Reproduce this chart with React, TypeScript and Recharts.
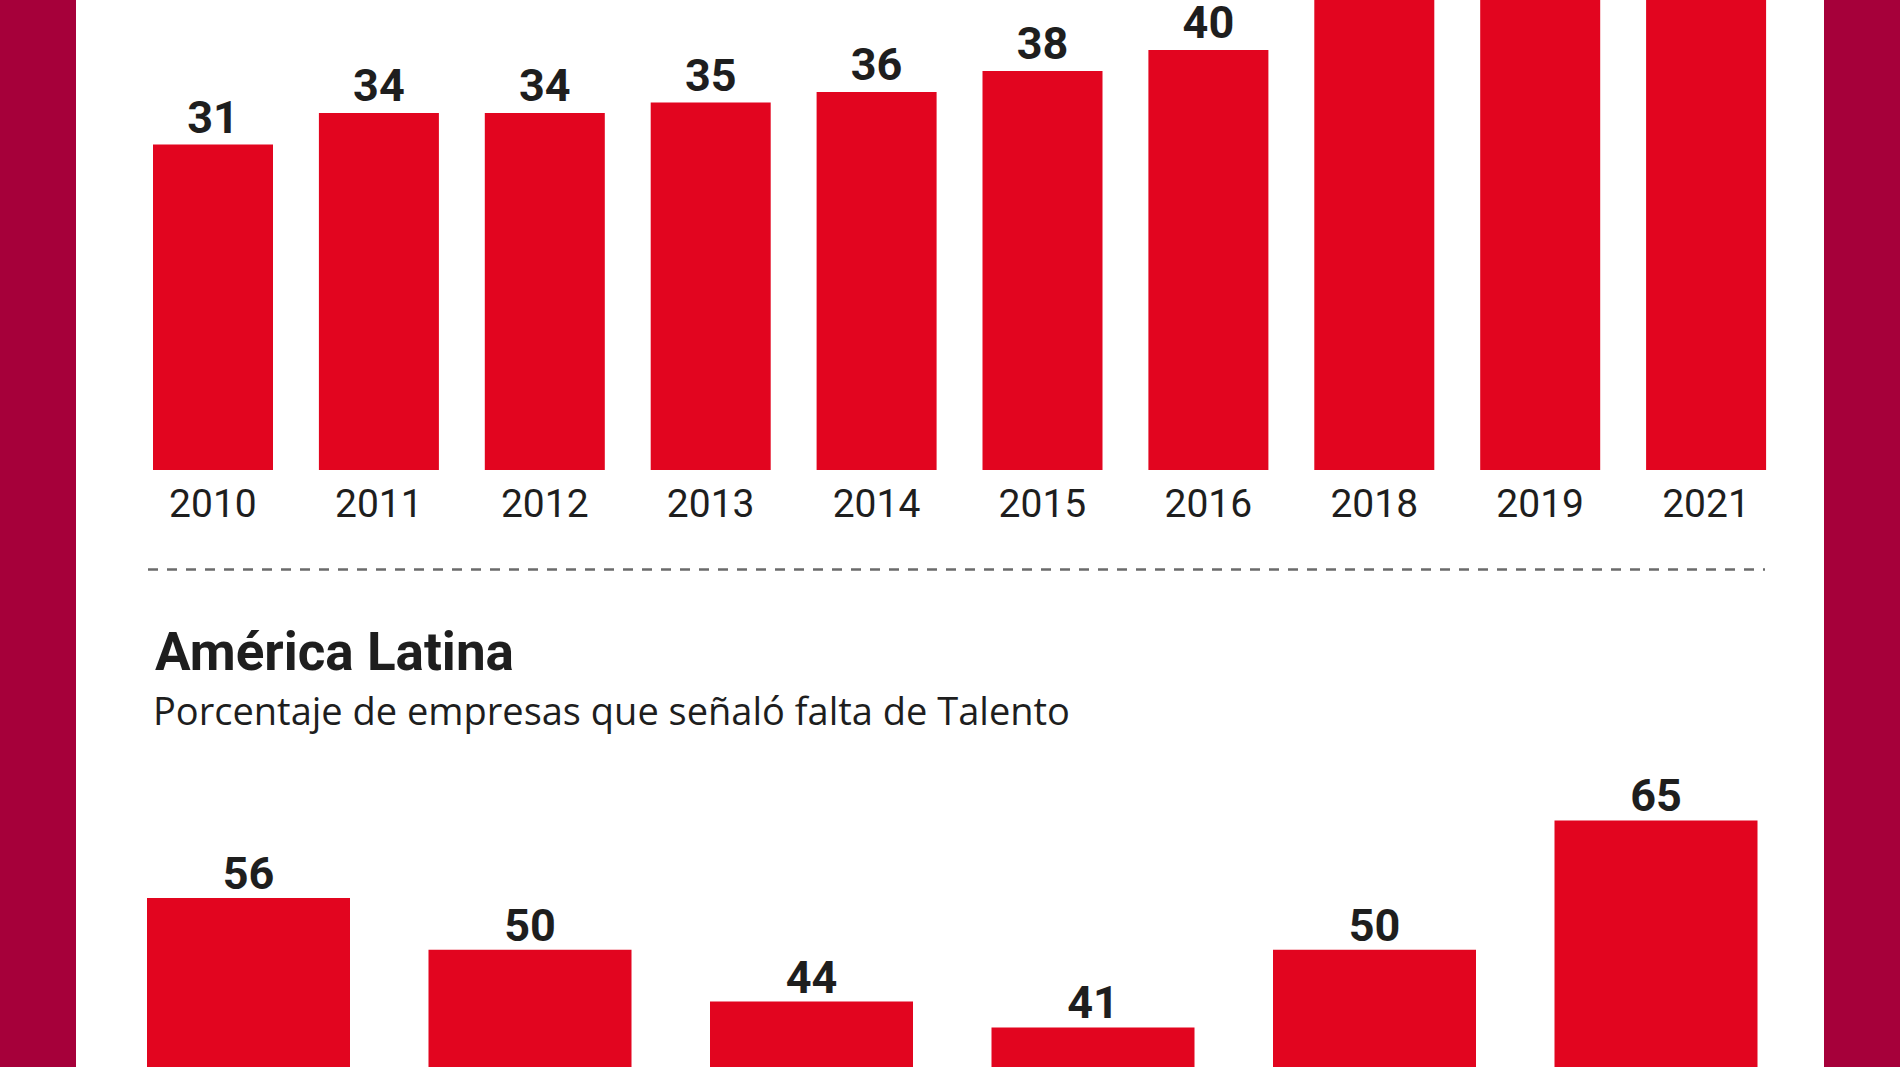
import { Bar, BarChart, LabelList, XAxis, YAxis } from "recharts";

const RED = "#e2051f";
const MAROON = "#a6003a";
const INK = "#1e1e1e";

// Global series (the last three bars run past the top of the frame)
const globalYears = ["2010", "2011", "2012", "2013", "2014", "2015", "2016", "2018", "2019", "2021"];
const globalShare = [31, 34, 34, 35, 36, 38, 40, 45, 54, 69];

// América Latina series (axis labels sit below the frame)
const latamYears = ["2013", "2014", "2015", "2016", "2018", "2021"];
const latamShare = [56, 50, 44, 41, 50, 65];

const globalData = globalYears.map((year, i) => ({ year, share: globalShare[i] }));
const latamData = latamYears.map((year, i) => ({ year, share: latamShare[i] }));

function YearTick({ x, y, payload }: any) {
  return (
    <text x={x} y={y} dy={47} textAnchor="middle" fontFamily="Roboto" fontSize={39} fill={INK}>
      {payload.value}
    </text>
  );
}

function ShareBars({
  data,
  width,
  height,
  barSize,
  offset,
}: {
  data: { year: string; share: number }[];
  width: number;
  height: number;
  barSize: number;
  offset: number;
}) {
  return (
    <BarChart width={width} height={height} data={data} margin={{ top: 0, right: 0, bottom: 0, left: 0 }}>
      <XAxis
        dataKey="year"
        axisLine={false}
        tickLine={false}
        tickSize={0}
        tickMargin={0}
        height={60}
        interval={0}
        tick={<YearTick />}
      />
      <YAxis hide domain={[0, 80]} />
      <Bar dataKey="share" fill={RED} barSize={barSize} isAnimationActive={false}>
        <LabelList
          dataKey="share"
          position="top"
          offset={offset}
          fontFamily="Roboto"
          fontSize={45}
          fontWeight={700}
          fill={INK}
        />
      </Bar>
    </BarChart>
  );
}

export default function App() {
  return (
    <div
      style={{
        position: "fixed",
        left: 0,
        top: 0,
        width: 1900,
        height: 1067,
        overflow: "hidden",
        background: "#fff",
      }}
    >
      <div style={{ position: "absolute", left: 0, top: 0, width: 76, height: 1067, background: MAROON }} />
      <div style={{ position: "absolute", left: 1824, top: 0, width: 76, height: 1067, background: MAROON }} />

      <div style={{ position: "absolute", left: 130, top: -370 }}>
        <ShareBars data={globalData} width={1659} height={900} barSize={120} offset={12} />
      </div>

      <svg
        width={1900}
        height={1067}
        style={{ position: "absolute", left: 0, top: 0, pointerEvents: "none" }}
      >
        <line x1={148} x2={1765} y1={569.5} y2={569.5} stroke="#6b6b6b" strokeWidth={2.5} strokeDasharray="10 9" />
        <text x={155} y={670} fontFamily="Roboto" fontWeight={700} fontSize={53} fill={INK}>
          América Latina
        </text>
        <text x={153} y={725} fontFamily="'Open Sans'" fontSize={38} fill={INK}>
          Porcentaje de empresas que señaló falta de Talento
        </text>
      </svg>

      <div style={{ position: "absolute", left: 108, top: 691 }}>
        <ShareBars data={latamData} width={1689} height={750} barSize={203} offset={9} />
      </div>
    </div>
  );
}
